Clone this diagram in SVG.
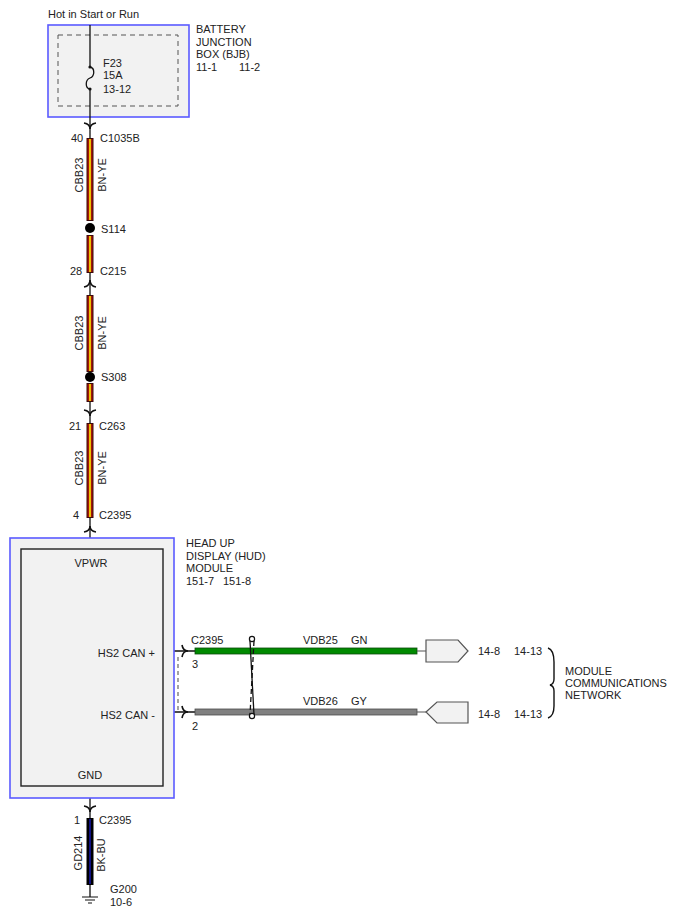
<svg xmlns="http://www.w3.org/2000/svg" width="680" height="916" viewBox="0 0 680 916">
<style>
text{font-family:"Liberation Sans",Arial,sans-serif;font-size:11px;fill:#222}
.thin{stroke:#111;stroke-width:1.3;fill:none}
.conn{stroke:#111;stroke-width:1.6;fill:none}
.bn1{stroke:#3a0a0a;stroke-width:7}
.bn2{stroke:#a3160a;stroke-width:5}
.bn3{stroke:#ffee00;stroke-width:1.6}
.mod{fill:#f2f2f2;stroke:#5a5aff;stroke-width:1.6}
.inner{fill:#f2f2f2;stroke:#222;stroke-width:1.4}
.pin{fill:#f2f2f2;stroke:#555;stroke-width:1.2}
</style>
<rect width="680" height="916" fill="#fff"/>

<g id="bjb">
<text x="48" y="18">Hot in Start or Run</text>
<rect class="mod" x="48" y="25" width="141" height="92"/>
<rect x="58" y="35" width="120" height="71" fill="none" stroke="#555" stroke-width="1" stroke-dasharray="5,4"/>
<text x="196" y="33">BATTERY</text>
<text x="196" y="45.7">JUNCTION</text>
<text x="196" y="58.3">BOX (BJB)</text>
<text x="196" y="71">11-1</text>
<text x="239" y="71">11-2</text>
<text x="103" y="66.5">F23</text>
<text x="103" y="79">15A</text>
<text x="103" y="92.5">13-12</text>
<path class="thin" d="M90,25 V67 C95,68 95,76 90,78 C85,80 85,88 90,89 V138"/>
<circle cx="90" cy="67" r="1.6" fill="#111"/>
<circle cx="90" cy="89" r="1.6" fill="#111"/>
</g>

<g id="connectors">
<path class="thin" d="M90,273 V295 M90,402 V423 M90,517 V549 M90,786 V818 M90,885 V897"/>
<path class="conn" d="M84,123 Q90,124 90,129 M96,123 Q90,124 90,129"/>
<path class="conn" d="M84,287 Q90,286 90,280 M96,287 Q90,286 90,280"/>
<path class="conn" d="M84,410 Q90,411 90,416 M96,410 Q90,411 90,416"/>
<path class="conn" d="M84,532 Q90,531 90,526 M96,532 Q90,531 90,526"/>
<path class="conn" d="M84,806 Q90,807 90,812 M96,806 Q90,807 90,812"/>
<g>
<line class="bn1" x1="90" y1="138" x2="90" y2="221"/>
<line class="bn2" x1="90" y1="139" x2="90" y2="220"/>
<line class="bn3" x1="90" y1="139" x2="90" y2="220"/>
<line class="bn1" x1="90" y1="235" x2="90" y2="273"/>
<line class="bn2" x1="90" y1="236" x2="90" y2="272"/>
<line class="bn3" x1="90" y1="236" x2="90" y2="272"/>
<line class="bn1" x1="90" y1="295" x2="90" y2="372"/>
<line class="bn2" x1="90" y1="296" x2="90" y2="371"/>
<line class="bn3" x1="90" y1="296" x2="90" y2="371"/>
<line class="bn1" x1="90" y1="383" x2="90" y2="402"/>
<line class="bn2" x1="90" y1="384" x2="90" y2="401"/>
<line class="bn3" x1="90" y1="384" x2="90" y2="401"/>
<line class="bn1" x1="90" y1="423" x2="90" y2="518"/>
<line class="bn2" x1="90" y1="424" x2="90" y2="517"/>
<line class="bn3" x1="90" y1="424" x2="90" y2="517"/>
<line x1="90" y1="818" x2="90" y2="885" stroke="#000" stroke-width="7"/>
<line x1="90" y1="819" x2="90" y2="884" stroke="#2020ff" stroke-width="1"/>
</g>
<text x="71" y="142">40</text>
<text x="100" y="142">C1035B</text>
<text transform="translate(83,175) rotate(-90)" text-anchor="middle">CBB23</text>
<text transform="translate(106,175) rotate(-90)" text-anchor="middle">BN-YE</text>
<text x="70" y="275">28</text>
<text x="100" y="275">C215</text>
<text transform="translate(83,333) rotate(-90)" text-anchor="middle">CBB23</text>
<text transform="translate(106,333) rotate(-90)" text-anchor="middle">BN-YE</text>
<text x="69" y="430">21</text>
<text x="99" y="430">C263</text>
<text transform="translate(83,468) rotate(-90)" text-anchor="middle">CBB23</text>
<text transform="translate(106,468) rotate(-90)" text-anchor="middle">BN-YE</text>
<text x="73" y="519">4</text>
<text x="99" y="519">C2395</text>

<path class="thin" d="M163,651 H195 M163,712 H195"/>
<path d="M178,657 V711" stroke="#666" stroke-width="1.2" stroke-dasharray="4,3" fill="none"/>
<path class="conn" d="M182,645 Q183,651 188,651 M182,657 Q183,651 188,651"/>
<path class="conn" d="M182,706 Q183,712 188,712 M182,718 Q183,712 188,712"/>
<rect x="195" y="648" width="222" height="6" fill="#008a00" stroke="#0a4a0a" stroke-width="0.8"/>
<rect x="195" y="709" width="222" height="6" fill="#808080" stroke="#4a4a4a" stroke-width="0.8"/>
<path d="M417,651 H426 M417,712 H426" stroke="#555" stroke-width="1.2"/>
<path d="M250,641 L254,715" stroke="#111" stroke-width="1.3"/>
<path d="M254,641 L250,715" stroke="#111" stroke-width="1.3" stroke-dasharray="5,3"/>
<circle cx="252" cy="639" r="2.6" fill="#fff" stroke="#111" stroke-width="1.2"/>
<circle cx="252" cy="716" r="2.6" fill="#fff" stroke="#111" stroke-width="1.2"/>
<text x="191" y="644">C2395</text>
<text x="192" y="668">3</text>
<text x="192" y="730">2</text>
<text x="303" y="644">VDB25</text>
<text x="351" y="644">GN</text>
<text x="303" y="705">VDB26</text>
<text x="351" y="705">GY</text>

<text x="74" y="824">1</text>
<text x="99" y="824">C2395</text>
<text transform="translate(82,853) rotate(-90)" text-anchor="middle">GD214</text>
<text transform="translate(105,855) rotate(-90)" text-anchor="middle">BK-BU</text>
</g>

<g id="s114">
<circle cx="90" cy="228" r="5" fill="#000"/>
<text x="101" y="233">S114</text>
</g>
<g id="s308">
<circle cx="90" cy="377" r="5" fill="#000"/>
<text x="101" y="381">S308</text>
</g>

<g id="hud">
<rect class="mod" x="10" y="538" width="164" height="260"/>
<rect class="inner" x="21" y="549" width="142" height="237"/>
<text x="91" y="567" text-anchor="middle">VPWR</text>
<text x="155" y="657" text-anchor="end">HS2 CAN +</text>
<text x="155" y="719" text-anchor="end">HS2 CAN -</text>
<text x="90" y="779" text-anchor="middle">GND</text>
<text x="186" y="547">HEAD UP</text>
<text x="186" y="559.5">DISPLAY (HUD)</text>
<text x="186" y="572">MODULE</text>
<text x="186" y="584.5">151-7</text>
<text x="223" y="584.5">151-8</text>
</g>

<g id="net-plus">
<polygon class="pin" points="426,640 458,640 468,651 458,662 426,662"/>
<text x="478" y="655">14-8</text>
<text x="514" y="655">14-13</text>
</g>
<g id="net-minus">
<polygon class="pin" points="426,712 437,702 468,702 468,723 437,723"/>
<text x="478" y="718">14-8</text>
<text x="514" y="718">14-13</text>
</g>
<g id="network">
<path d="M548,648 Q554,650 554,662 L554,679 Q554,684 550,685 Q554,686 554,691 L554,706 Q554,716 548,718" fill="none" stroke="#111" stroke-width="1.4"/>
<text x="565" y="675">MODULE</text>
<text x="565" y="687">COMMUNICATIONS</text>
<text x="565" y="699">NETWORK</text>
</g>

<g id="g200">
<path d="M82,897 H98 M85,900 H95 M88,903 H92" stroke="#111" stroke-width="1.2"/>
<text x="110" y="893">G200</text>
<text x="110" y="906">10-6</text>
</g>
</svg>
